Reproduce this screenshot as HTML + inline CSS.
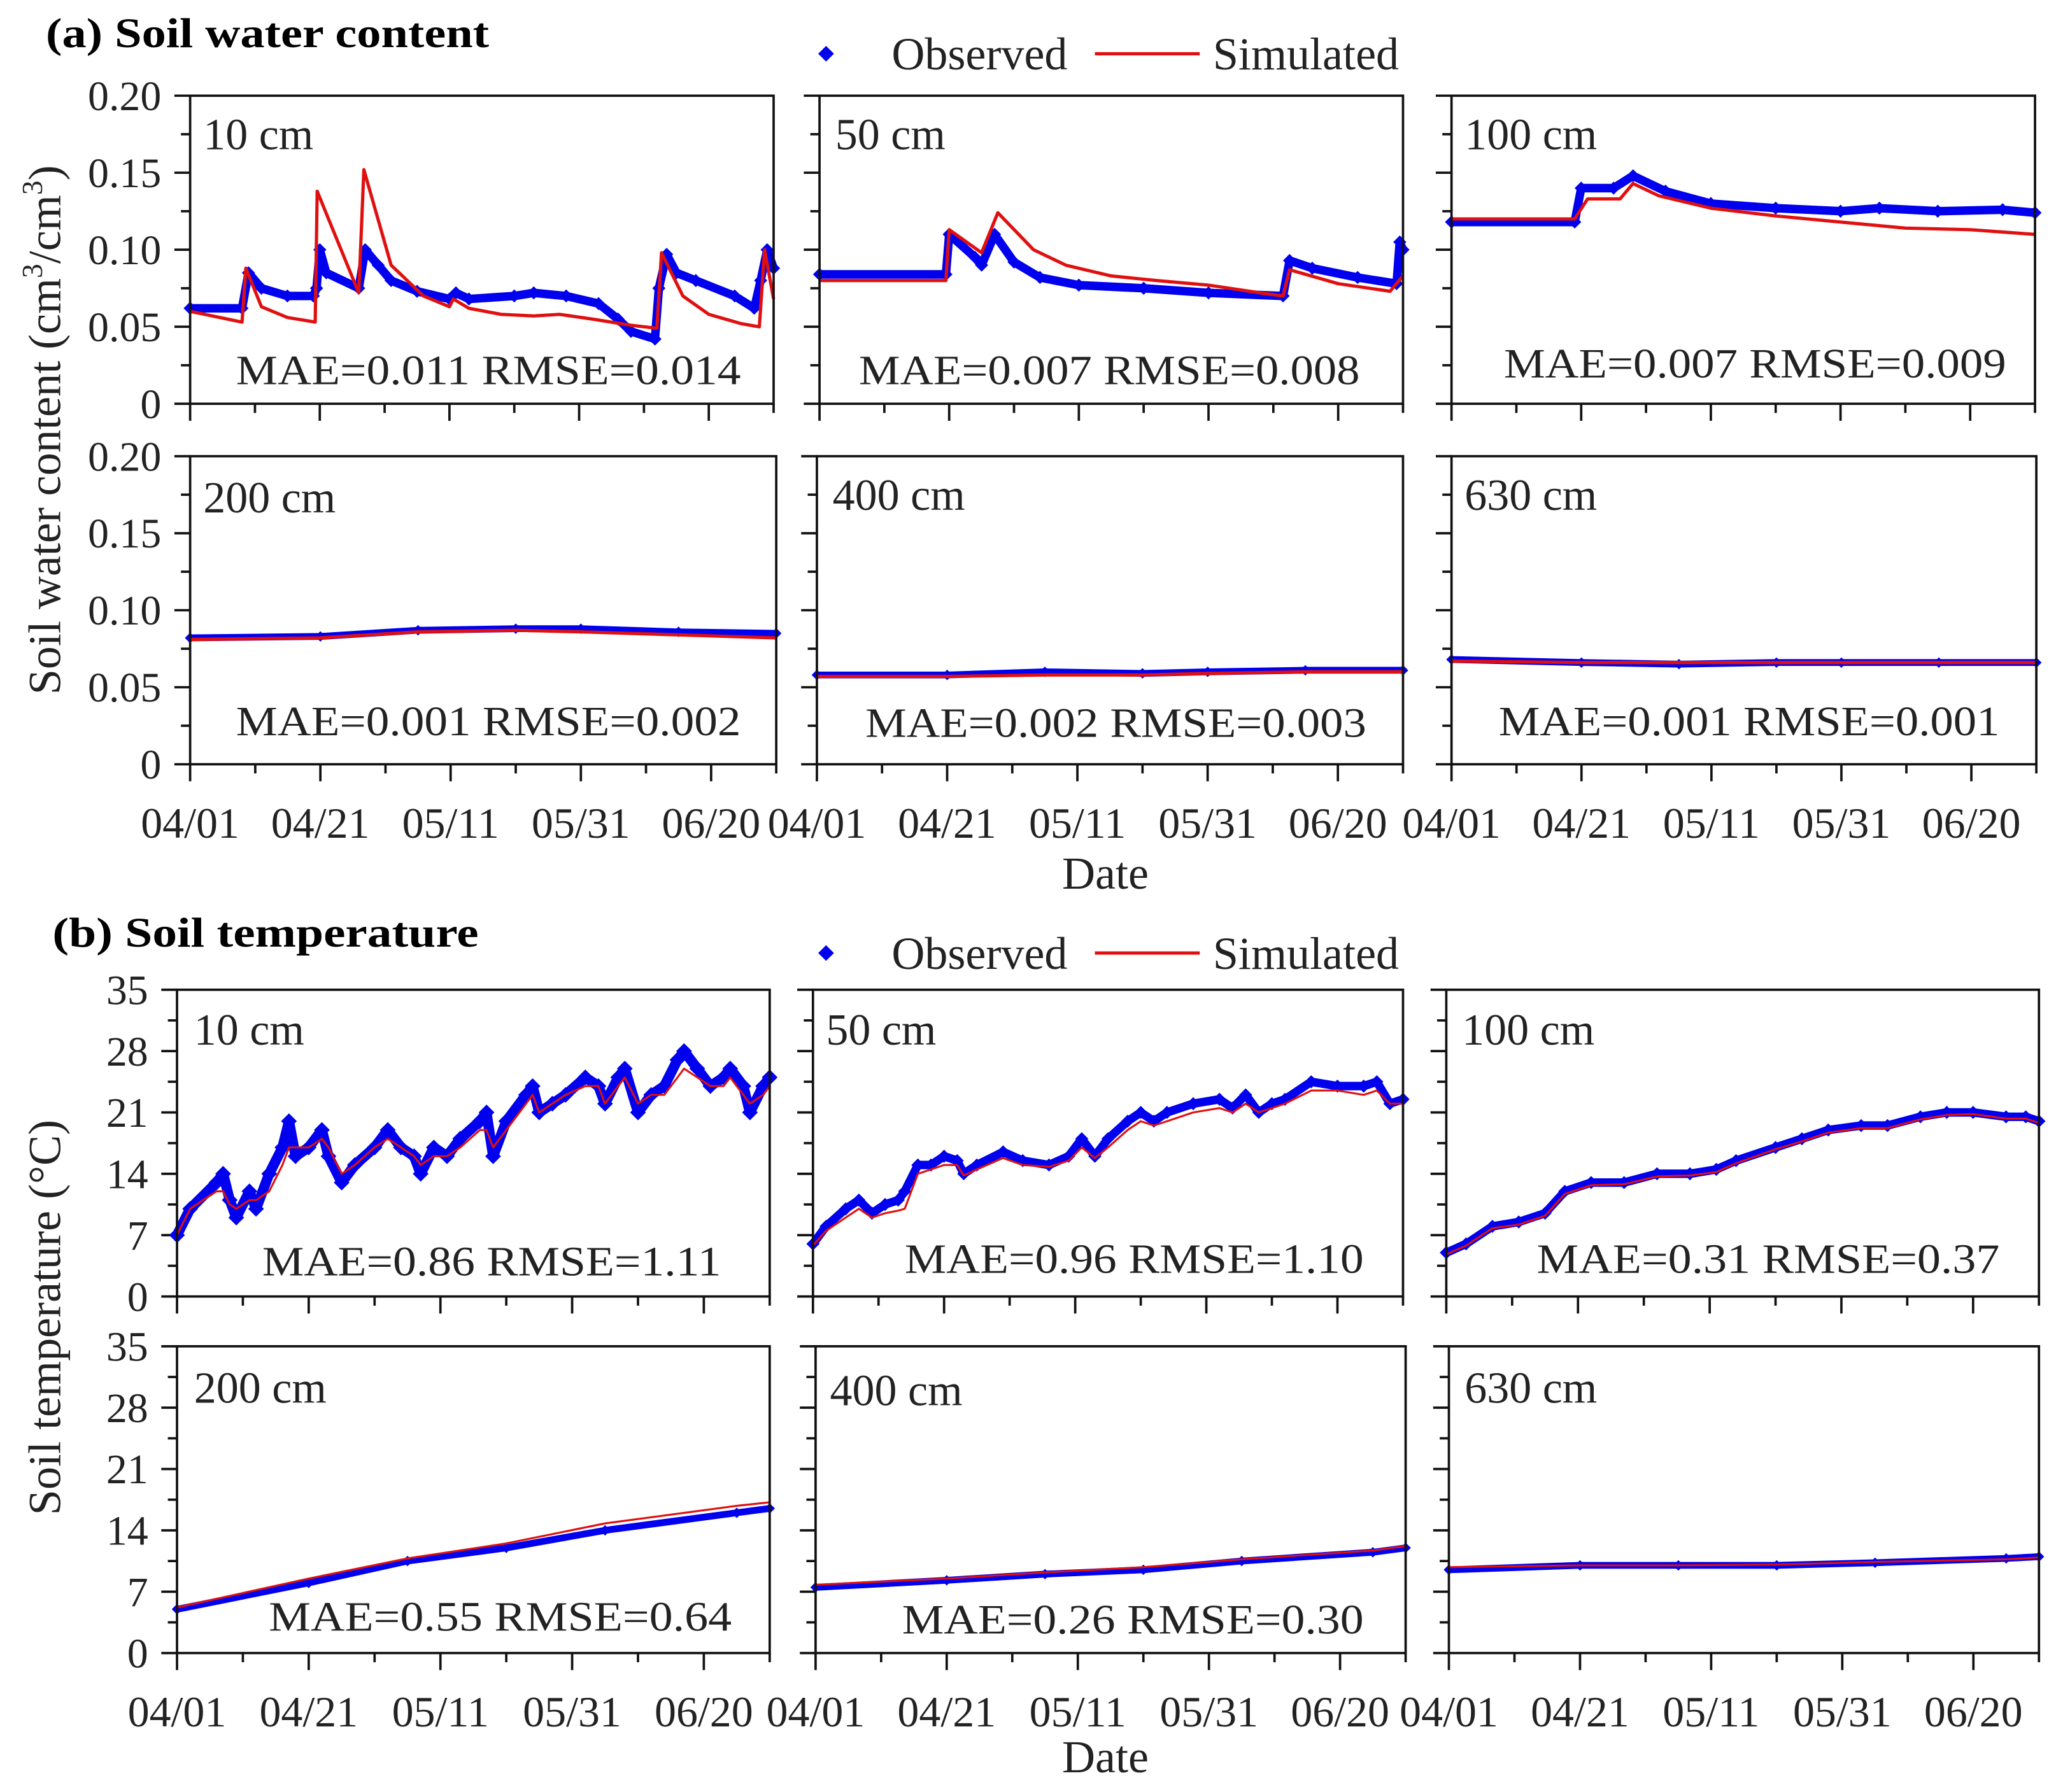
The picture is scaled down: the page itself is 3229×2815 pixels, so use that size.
<!DOCTYPE html>
<html><head><meta charset="utf-8"><style>
html,body{margin:0;padding:0;background:#fff;}
svg{display:block;font-family:"Liberation Serif",serif;}
</style></head>
<body>
<svg id="fig" xmlns="http://www.w3.org/2000/svg" width="3229" height="2815" viewBox="0 0 1568 1367" preserveAspectRatio="none">
<rect width="1568" height="1367" fill="#fff"/>
<text x="35" y="36" font-size="32" font-weight="bold" textLength="338" lengthAdjust="spacingAndGlyphs">(a) Soil water content</text>
<text x="40" y="722" font-size="32" font-weight="bold" textLength="325" lengthAdjust="spacingAndGlyphs">(b) Soil temperature</text>
<g>
<path d="M630 35 L636 41 L630 47 L624 41Z" fill="#0000ee"/>
<text x="680" y="53" font-size="35" fill="#222">Observed</text>
<line x1="835" y1="41" x2="915" y2="41" stroke="#e01010" stroke-width="2.5"/>
<text x="925" y="53" font-size="35" fill="#222">Simulated</text>
</g>
<g>
<path d="M630 721 L636 727 L630 733 L624 727Z" fill="#0000ee"/>
<text x="680" y="739" font-size="35" fill="#222">Observed</text>
<line x1="835" y1="727" x2="915" y2="727" stroke="#e01010" stroke-width="2.5"/>
<text x="925" y="739" font-size="35" fill="#222">Simulated</text>
</g>
<text transform="translate(46,328) rotate(-90)" text-anchor="middle" font-size="35" fill="#222">Soil water content (cm<tspan font-size="22" dy="-14">3</tspan><tspan dy="14">/cm</tspan><tspan font-size="22" dy="-14">3</tspan><tspan dy="14">)</tspan></text>
<text transform="translate(46,1005) rotate(-90)" text-anchor="middle" font-size="35" fill="#222">Soil temperature (°C)</text>
<text x="843" y="678" text-anchor="middle" font-size="35" fill="#222">Date</text>
<text x="843" y="1352" text-anchor="middle" font-size="35" fill="#222">Date</text>
</svg>
<script>
// ---- data (x = days since 04/01) ----
const xTickLabels = ["04/01","04/21","05/11","05/31","06/20"];
const xTickDays = [0,20,40,60,80];
const swcTicks = ["0","0.05","0.10","0.15","0.20"];
const swcTickVals = [0,0.05,0.10,0.15,0.20];
const tTicks = ["0","7","14","21","28","35"];
const tTickVals = [0,7,14,21,28,35];

const swc10ObsDays = [0,8,9,11,15,19,19.5,20,21,26,27,29,31,35,40,41,43,50,53,58,63,66,68,71.7,72.3,73.5,75,78,84,87,88,89,90];
const swc10Obs = [0.062,0.062,0.085,0.075,0.07,0.07,0.075,0.1,0.085,0.075,0.1,0.09,0.08,0.073,0.068,0.072,0.068,0.07,0.072,0.07,0.065,0.055,0.047,0.042,0.075,0.097,0.085,0.08,0.07,0.062,0.08,0.1,0.088];
const swc10SimDays = [0,8,8.6,11,15,19.3,19.6,26,26.8,31,36,40,40.6,43,48,53,57,62,68,72,72.7,76,80,85,87.8,88.6,90];
const swc10Sim = [0.06,0.053,0.088,0.063,0.056,0.053,0.138,0.072,0.152,0.09,0.07,0.063,0.068,0.062,0.058,0.057,0.058,0.055,0.051,0.049,0.098,0.07,0.058,0.052,0.05,0.1,0.068];

const swc50ObsDays = [0,19.5,20,24,25,27,30,34,40,50,60,71.5,72.5,76,83,89,89.5,90];
const swc50Obs = [0.084,0.084,0.11,0.095,0.09,0.11,0.092,0.082,0.077,0.075,0.072,0.07,0.093,0.088,0.082,0.078,0.105,0.1];
const swc50SimDays = [0,19.5,20,25,27.5,33,38,45,52,60,68,71.5,72.5,80,88,90];
const swc50Sim = [0.08,0.08,0.113,0.098,0.124,0.1,0.09,0.083,0.08,0.077,0.072,0.07,0.087,0.078,0.073,0.083];

const swc100ObsDays = [0,19,20,25,28,33,40,50,60,66,75,85,90];
const swc100Obs = [0.118,0.118,0.14,0.14,0.148,0.138,0.13,0.127,0.125,0.127,0.125,0.126,0.124];
const swc100SimDays = [0,19,21,26,28,32,40,50,60,70,80,90];
const swc100Sim = [0.12,0.12,0.133,0.133,0.143,0.135,0.127,0.122,0.118,0.114,0.113,0.11];

const swcFlatDays = [0,20,35,50,60,75,90];
const swc200Obs = [0.082,0.083,0.087,0.088,0.088,0.086,0.085];
const swc200Sim = [0.081,0.082,0.086,0.087,0.086,0.084,0.082];
const swc400Obs = [0.058,0.058,0.06,0.059,0.06,0.061,0.061];
const swc400Sim = [0.057,0.057,0.058,0.058,0.059,0.06,0.06];
const swc630Obs = [0.068,0.066,0.065,0.066,0.066,0.066,0.066];
const swc630Sim = [0.067,0.066,0.066,0.066,0.066,0.066,0.066];

const t10Days = [0,2,6,7,8,9,11,12,14,16,17,18,20,22,23,25,27,30,32,34,36,37,39,41,43,46,47,48,50,53,54,55,57,59,62,64,65,67,68,70,72,74,76,77,79,81,83,84,86,87,89,90];
const t10Obs = [7,10,13,14,11,9,12,10,14,17,20,16,17,19,16,13,15,17,19,17,16,14,17,16,18,20,21,16,20,23,24,21,22,23,25,24,22,25,26,21,23,24,27,28,26,24,25,26,24,21,24,25];
const t10Sim = [7,10,12,12,10.5,10,11,11,12,15,17,17,17,18,17,14,15,17,18,17,16,15,16,16,17,19,19,17,19,22,23,21,22,23,24,24,22,24,25,22,23,23,25,26,25,24,24,25,23,22,23,24];

const t50Days = [0,2,5,7,9,11,13,14,16,18,20,22,23,25,29,32,36,39,41,43,45,48,50,52,54,58,62,64,66,68,70,72,76,80,84,86,88,90];
const t50Obs = [6,8,10,11,9.5,10.5,11,12,15,15,16,15.5,14,15,16.5,15.5,15,16,18,16,18,20,21,20,21,22,22.5,21.5,23,21,22,22.5,24.5,24,24,24.5,22,22.5];
const t50Sim = [5.8,7.5,9,10,9,9.5,9.8,10,14,14.5,15,15,13.8,14.5,15.8,15,14.8,15.5,17,15.8,17,19,20,19.5,20,21,21.5,21,22,21,21.5,22,23.5,23.5,23,23.5,22,22];

const t100Days = [0,3,7,11,15,18,22,27,32,37,41,44,50,54,58,63,67,72,76,80,85,88,90];
const t100Obs = [5,6,8,8.5,9.5,12,13,13,14,14,14.5,15.5,17,18,19,19.5,19.5,20.5,21,21,20.5,20.5,20];
const t100Sim = [4.8,5.8,7.8,8.2,9.2,11.7,12.7,12.8,13.7,13.8,14.2,15.2,16.8,17.7,18.7,19.2,19.2,20.2,20.7,20.8,20.3,20.3,19.8];

const tFlatDays = [0,20,35,50,65,85,90];
const t200Obs = [5,8,10.5,12,14,16,16.5];
const t200Sim = [5.2,8.5,10.8,12.5,14.8,16.8,17.2];
const t400Obs = [7.5,8.3,9,9.5,10.5,11.5,12];
const t400Sim = [7.8,8.5,9.2,9.8,10.7,11.7,12.2];
const t630Obs = [9.5,10,10,10,10.3,10.8,11];
const t630Sim = [9.8,10,10,10.1,10.4,10.7,10.9];

const panels = [
 {name:"swc-10cm",x0:145,x1:590,y0:73,y1:308,ymax:0.2,yt:swcTickVals,yl:swcTicks,minor:0.025,showY:true,showX:false,label:"10 cm",lx:155,ly:114,stat:"MAE=0.011  RMSE=0.014",sx:180,sx2:565,sy:293,od:swc10ObsDays,o:swc10Obs,sd:swc10SimDays,s:swc10Sim,ms:5},
 {name:"swc-50cm",x0:625,x1:1070,y0:73,y1:308,ymax:0.2,yt:swcTickVals,yl:swcTicks,minor:0.025,showY:false,showX:false,label:"50 cm",lx:637,ly:114,stat:"MAE=0.007  RMSE=0.008",sx:655,sx2:1037,sy:293,od:swc50ObsDays,o:swc50Obs,sd:swc50SimDays,s:swc50Sim,ms:5},
 {name:"swc-100cm",x0:1107,x1:1552,y0:73,y1:308,ymax:0.2,yt:swcTickVals,yl:swcTicks,minor:0.025,showY:false,showX:false,label:"100 cm",lx:1117,ly:114,stat:"MAE=0.007  RMSE=0.009",sx:1147,sx2:1530,sy:288,od:swc100ObsDays,o:swc100Obs,sd:swc100SimDays,s:swc100Sim,ms:5},
 {name:"swc-200cm",x0:145,x1:592,y0:348,y1:583,ymax:0.2,yt:swcTickVals,yl:swcTicks,minor:0.025,showY:true,showX:true,label:"200 cm",lx:155,ly:391,stat:"MAE=0.001  RMSE=0.002",sx:180,sx2:565,sy:561,od:swcFlatDays,o:swc200Obs,sd:swcFlatDays,s:swc200Sim,ms:4},
 {name:"swc-400cm",x0:623,x1:1070,y0:348,y1:583,ymax:0.2,yt:swcTickVals,yl:swcTicks,minor:0.025,showY:false,showX:true,label:"400 cm",lx:635,ly:389,stat:"MAE=0.002  RMSE=0.003",sx:660,sx2:1042,sy:562,od:swcFlatDays,o:swc400Obs,sd:swcFlatDays,s:swc400Sim,ms:4},
 {name:"swc-630cm",x0:1107,x1:1553,y0:348,y1:583,ymax:0.2,yt:swcTickVals,yl:swcTicks,minor:0.025,showY:false,showX:true,label:"630 cm",lx:1117,ly:389,stat:"MAE=0.001  RMSE=0.001",sx:1143,sx2:1525,sy:561,od:swcFlatDays,o:swc630Obs,sd:swcFlatDays,s:swc630Sim,ms:4},
 {name:"temp-10cm",x0:135,x1:587,y0:755,y1:989,ymax:35,yt:tTickVals,yl:tTicks,minor:3.5,showY:true,showX:false,label:"10 cm",lx:148,ly:797,stat:"MAE=0.86  RMSE=1.11",sx:200,sx2:550,sy:973,od:t10Days,o:t10Obs,sd:t10Days,s:t10Sim,ms:6},
 {name:"temp-50cm",x0:620,x1:1070,y0:755,y1:989,ymax:35,yt:tTickVals,yl:tTicks,minor:3.5,showY:false,showX:false,label:"50 cm",lx:630,ly:797,stat:"MAE=0.96  RMSE=1.10",sx:690,sx2:1040,sy:971,od:t50Days,o:t50Obs,sd:t50Days,s:t50Sim,ms:5},
 {name:"temp-100cm",x0:1103,x1:1555,y0:755,y1:989,ymax:35,yt:tTickVals,yl:tTicks,minor:3.5,showY:false,showX:false,label:"100 cm",lx:1115,ly:797,stat:"MAE=0.31  RMSE=0.37",sx:1172,sx2:1525,sy:971,od:t100Days,o:t100Obs,sd:t100Days,s:t100Sim,ms:5},
 {name:"temp-200cm",x0:135,x1:587,y0:1027,y1:1261,ymax:35,yt:tTickVals,yl:tTicks,minor:3.5,showY:true,showX:true,label:"200 cm",lx:148,ly:1070,stat:"MAE=0.55  RMSE=0.64",sx:205,sx2:558,sy:1244,od:tFlatDays,o:t200Obs,sd:tFlatDays,s:t200Sim,ms:4},
 {name:"temp-400cm",x0:622,x1:1072,y0:1027,y1:1261,ymax:35,yt:tTickVals,yl:tTicks,minor:3.5,showY:false,showX:true,label:"400 cm",lx:633,ly:1072,stat:"MAE=0.26  RMSE=0.30",sx:688,sx2:1040,sy:1246,od:tFlatDays,o:t400Obs,sd:tFlatDays,s:t400Sim,ms:4},
 {name:"temp-630cm",x0:1105,x1:1555,y0:1027,y1:1261,ymax:35,yt:tTickVals,yl:tTicks,minor:3.5,showY:false,showX:true,label:"630 cm",lx:1117,ly:1070,stat:"",od:tFlatDays,o:t630Obs,sd:tFlatDays,s:t630Sim,ms:4}
];

const NS="http://www.w3.org/2000/svg";
const svg=document.getElementById('fig');
function mk(tag,attrs,parent){const e=document.createElementNS(NS,tag);for(const k in attrs)e.setAttribute(k,attrs[k]);(parent||svg).appendChild(e);return e;}

panels.forEach(p=>{
  const g=mk('g',{});
  
  
  const xs=d=>p.x0+(p.x1-p.x0)*d/90;
  const ys=v=>p.y1-(p.y1-p.y0)*v/p.ymax;
  for(let v=0;v<=p.ymax+1e-9;v+=p.minor){
    const isMaj=p.yt.some(t=>Math.abs(t-v)<1e-9);
    const t=mk('line',{x1:p.x0-(isMaj?12:7),x2:p.x0,y1:ys(v),y2:ys(v),stroke:'#111','stroke-width':1.8},g);
    
    
  }
  if(p.showY){
    p.yt.forEach((v,i)=>{
      const t=mk('text',{x:p.x0-22,y:ys(v)+11,'text-anchor':'end','font-size':32,fill:'#222'},g);
      t.textContent=p.yl[i];
      
      
    });
  }
  for(let d=0;d<=90;d+=10){
    const isMaj=d%20===0;
    const t=mk('line',{x1:xs(d),x2:xs(d),y1:p.y1,y2:p.y1+(isMaj?13:7),stroke:'#111','stroke-width':1.8},g);
    
    
  }
  if(p.showX){
    xTickDays.forEach((d,i)=>{
      const t=mk('text',{x:xs(d),y:p.y1+56,'text-anchor':'middle','font-size':33,fill:'#222'},g);
      t.textContent=xTickLabels[i];
      
      
    });
  }
  const op=p.od.map((d,i)=>xs(d).toFixed(1)+','+ys(p.o[i]).toFixed(1)).join(' ');
  const ol=mk('polyline',{points:op,fill:'none',stroke:'#0000ee','stroke-width':p.ms*1.3,'stroke-linejoin':'round'},g);
  
  
  p.od.forEach((d,i)=>{
    const x=xs(d),y=ys(p.o[i]),m=p.ms;
    const pt=mk('path',{d:`M${x} ${y-m}L${x+m} ${y}L${x} ${y+m}L${x-m} ${y}Z`,fill:'#0000ee'},g);
    
    
  });
  const sp=p.sd.map((d,i)=>xs(d).toFixed(1)+','+ys(p.s[i]).toFixed(1)).join(' ');
  const sl=mk('polyline',{points:sp,fill:'none',stroke:'#e01010','stroke-width':p.ymax===35?1.5:2.5,'stroke-linejoin':'round'},g);
  
  
  const fr=mk('rect',{x:p.x0,y:p.y0,width:p.x1-p.x0,height:p.y1-p.y0,fill:'none',stroke:'#111','stroke-width':1.8},g);
  
  
  const lb=mk('text',{x:p.lx,y:p.ly,'font-size':34,fill:'#222'},g);
  lb.textContent=p.label;
  
  
  if(p.stat){
    const st=mk('text',{x:p.sx,y:p.sy,'font-size':32,fill:'#222',textLength:p.sx2-p.sx,lengthAdjust:'spacingAndGlyphs','xml:space':'preserve'},g);
    st.textContent=p.stat;
    
    
  }
});
</script>
</body></html>
